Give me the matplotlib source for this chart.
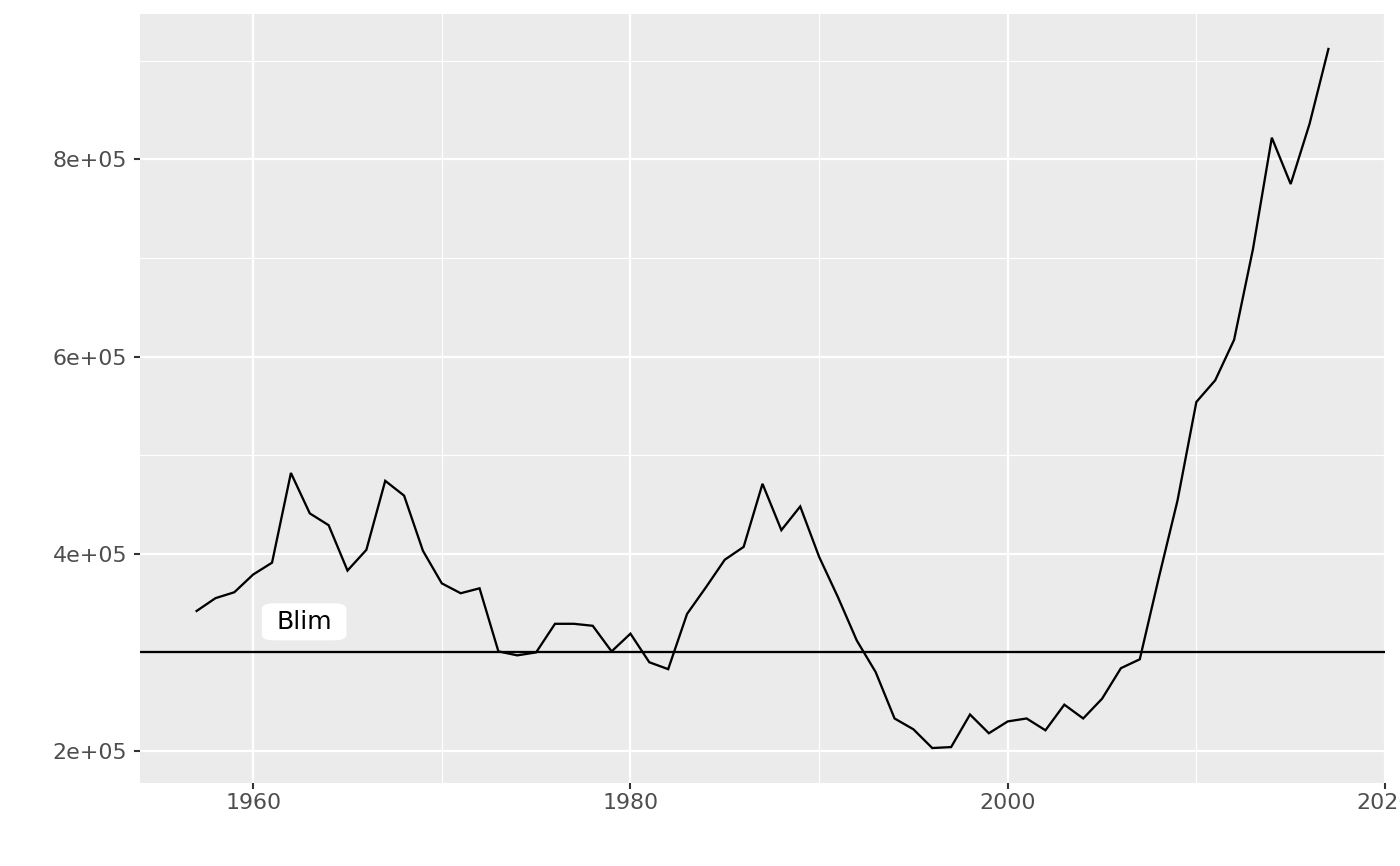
import matplotlib
matplotlib.use("Agg")
import matplotlib.pyplot as plt
from matplotlib.ticker import FixedLocator, FuncFormatter

years = list(range(1957, 2018))
ssb = [342e3, 355e3, 361e3, 379e3, 391e3, 482e3, 441e3, 429e3, 383e3, 404e3,
       474e3, 459e3, 403e3, 370e3, 360e3, 365e3, 301e3, 297e3, 300e3, 329e3,
       329e3, 327e3, 301e3, 319e3, 290e3, 283e3, 339e3, 366e3, 394e3, 407e3,
       471e3, 424e3, 448e3, 397e3, 356e3, 312e3, 280e3, 233e3, 222e3, 203e3,
       204e3, 237e3, 218e3, 230e3, 233e3, 221e3, 247e3, 233e3, 253e3, 284e3,
       293e3, 375e3, 454e3, 554e3, 576e3, 617e3, 709e3, 822e3, 775e3, 836e3,
       912e3]
blim = 3e5
label_text = "Blim"
label_pos = (1962.7, 331e3)

x_major = [1960, 1980, 2000, 2020]
x_minor = [1970, 1990, 2010]
y_major = [2e5, 4e5, 6e5, 8e5]
y_minor = [3e5, 5e5, 7e5, 9e5]

dpi = 150
fig = plt.figure(figsize=(1400 / dpi, 866 / dpi), dpi=dpi)
ax = fig.add_axes([140 / 1400, 1 - 783 / 866, (1385 - 140) / 1400, (783 - 14) / 866])
ax.set_facecolor("#EBEBEB")
for s in ax.spines.values():
    s.set_visible(False)

xr = max(years) - min(years)
ax.set_xlim(min(years) - 0.05 * xr, max(years) + 0.05 * xr)
yr = max(ssb) - min(ssb)
ax.set_ylim(min(ssb) - 0.05 * yr, max(ssb) + 0.05 * yr)

ax.xaxis.set_major_locator(FixedLocator(x_major))
ax.xaxis.set_minor_locator(FixedLocator(x_minor))
ax.yaxis.set_major_locator(FixedLocator(y_major))
ax.yaxis.set_minor_locator(FixedLocator(y_minor))
ax.yaxis.set_major_formatter(FuncFormatter(lambda v, p: f"{v:.0e}"))
ax.grid(which="major", color="white", linewidth=1.1)
ax.grid(which="minor", color="white", linewidth=0.55)
ax.set_axisbelow(True)
ax.tick_params(which="major", length=2.75, width=1.0, color="#333333",
               labelcolor="#4D4D4D", labelsize=10.6, pad=2.2)
ax.tick_params(axis="y", which="major", pad=3.5)
ax.tick_params(which="minor", length=0)

ax.plot(years, ssb, color="black", linewidth=1.1, solid_joinstyle="miter")
ax.axhline(blim, color="black", linewidth=1.1)
ax.text(label_pos[0], label_pos[1], label_text, ha="center", va="center",
        fontsize=12, color="black",
        bbox=dict(boxstyle="round,pad=0.58,rounding_size=0.5", facecolor="white",
                  edgecolor="none", mutation_aspect=0.45))

fig.savefig("out.png", dpi=dpi)
